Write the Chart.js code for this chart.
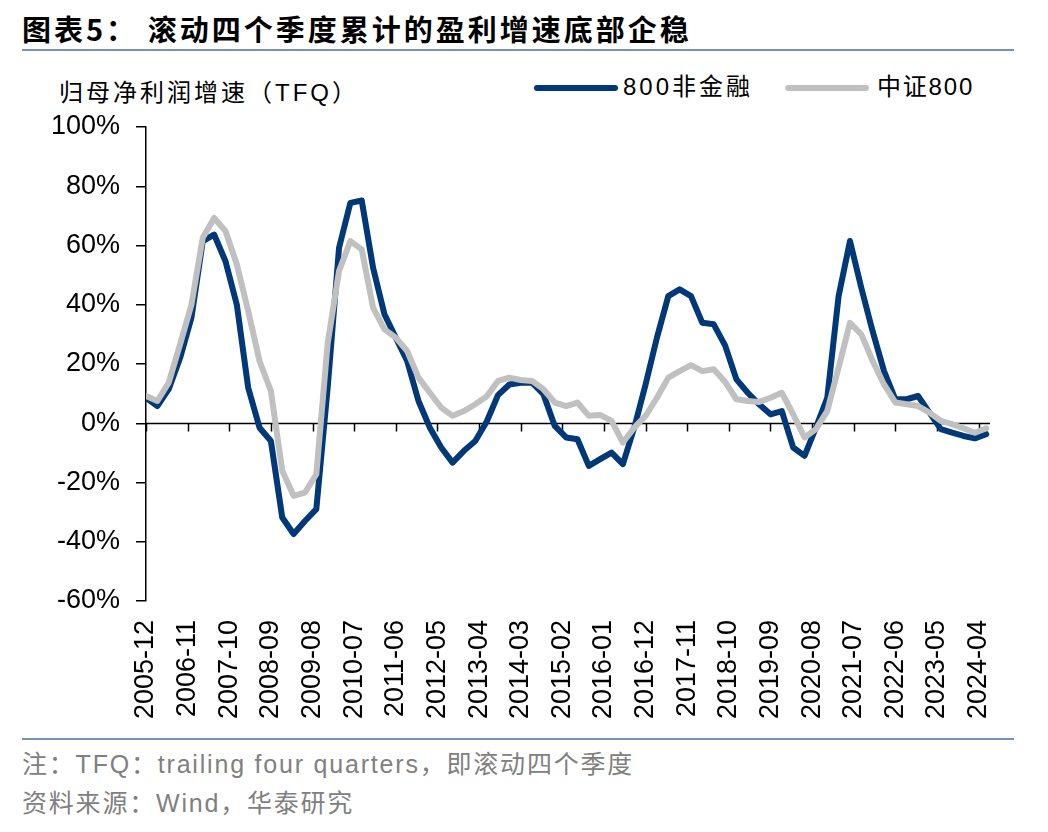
<!DOCTYPE html>
<html>
<head>
<meta charset="utf-8">
<script src="https://cdn.jsdelivr.net/npm/chart.js@4.4.0/dist/chart.umd.min.js"></script>
<style>
  body { margin: 0; width: 1048px; height: 832px; background: #fff; position: relative; overflow: hidden;
         font-family: "Liberation Sans", "Noto Sans CJK SC", sans-serif; color: #000; }
  .abs { position: absolute; white-space: nowrap; }
  #title { left: 22px; top: 8px; font-size: 29px; font-weight: bold; letter-spacing: 3px;
           font-family: "Noto Sans CJK SC", sans-serif; line-height: 40px; }
  .rule { position: absolute; left: 22px; width: 992px; height: 2px; background: #7393bd; }
  #ytitle { left: 59px; top: 76px; font-size: 24px; line-height: 34px; letter-spacing: 3px; }
  .swatch { position: absolute; height: 6px; border-radius: 3px; }
  .legtext { font-size: 24px; line-height: 34px; }
  .note { left: 22px; font-size: 25px; color: #808080; line-height: 30px; letter-spacing: 1.8px; }
  #chartwrap { position: absolute; left: 0; top: 100px; width: 1048px; height: 635px; }
</style>
</head>
<body>
<div id="title" class="abs">图表5：&nbsp;滚动四个季度累计的盈利增速底部企稳</div>
<div class="rule" style="top:49px"></div>
<div id="ytitle" class="abs">归母净利润增速（TFQ）</div>
<div class="swatch" style="left:534px;top:85px;width:84px;background:#003878"></div>
<div class="abs legtext" style="left:623px;top:70px;letter-spacing:3px">800非金融</div>
<div class="swatch" style="left:785px;top:85px;width:84px;background:#c0c0c0"></div>
<div class="abs legtext" style="left:877px;top:70px;letter-spacing:1.8px">中证800</div>
<div id="chartwrap"><canvas id="profitChart" width="1048" height="635"></canvas></div>
<div class="rule" style="top:738px"></div>
<div class="abs note" style="top:749px">注：TFQ：trailing four quarters，即滚动四个季度</div>
<div class="abs note" style="top:788px">资料来源：Wind，华泰研究</div>

<script>
// quarter ends, 2005-12 .. 2024-06
const quarters = [
  '2005-12',
  '2006-03', '2006-06', '2006-09', '2006-12',
  '2007-03', '2007-06', '2007-09', '2007-12',
  '2008-03', '2008-06', '2008-09', '2008-12',
  '2009-03', '2009-06', '2009-09', '2009-12',
  '2010-03', '2010-06', '2010-09', '2010-12',
  '2011-03', '2011-06', '2011-09', '2011-12',
  '2012-03', '2012-06', '2012-09', '2012-12',
  '2013-03', '2013-06', '2013-09', '2013-12',
  '2014-03', '2014-06', '2014-09', '2014-12',
  '2015-03', '2015-06', '2015-09', '2015-12',
  '2016-03', '2016-06', '2016-09', '2016-12',
  '2017-03', '2017-06', '2017-09', '2017-12',
  '2018-03', '2018-06', '2018-09', '2018-12',
  '2019-03', '2019-06', '2019-09', '2019-12',
  '2020-03', '2020-06', '2020-09', '2020-12',
  '2021-03', '2021-06', '2021-09', '2021-12',
  '2022-03', '2022-06', '2022-09', '2022-12',
  '2023-03', '2023-06', '2023-09', '2023-12',
  '2024-03', '2024-06'
];

// 800非金融 (%)
const nonFinancial = [
  8.6,
  5.8, 11.5, 22.0, 35.6,
  61.5, 63.7, 54.7, 40.0,
  12.0, -1.5, -6.0, -31.8,
  -37.4, -33.0, -29.0, 12.0,
  59.2, 74.4, 75.2, 52.5,
  36.8, 28.9, 21.0, 7.5,
  -1.5, -8.2, -13.3, -9.3,
  -6.0, 0.5, 9.5, 13.1,
  13.7, 13.7, 9.8, -0.9,
  -4.8, -5.4, -14.4, -12.1,
  -9.9, -13.8, -1.5, 13.1,
  28.9, 42.9, 45.2, 42.9,
  33.9, 33.4, 26.3, 14.8,
  10.3, 6.4, 3.0, 4.1,
  -8.2, -11.0, -1.5, 8.6,
  42.9, 61.5, 45.7, 31.0,
  17.6, 8.1, 8.1, 9.2,
  3.6, -2.0, -3.2, -4.3,
  -5.1, -3.7
];

// 中证800 (%)
const csi800 = [
  9.2,
  7.5, 13.7, 26.6, 40.0,
  62.6, 69.3, 64.9, 53.6,
  37.9, 21.0, 10.9, -16.0,
  -24.5, -23.4, -17.2, 27.0,
  51.4, 61.5, 58.7, 39.0,
  31.7, 28.9, 24.4, 15.4,
  10.3, 5.3, 2.5, 4.1,
  6.4, 9.0, 14.3, 15.4,
  14.6, 14.3, 11.5, 7.0,
  5.8, 7.0, 2.5, 2.8,
  0.8, -6.5, -1.5, 2.5,
  8.6, 15.4, 17.6, 19.6,
  17.6, 18.2, 14.0, 8.1,
  7.5, 7.2, 8.6, 10.3,
  3.0, -4.8, -2.0, 4.1,
  18.8, 33.9, 30.0, 21.0,
  13.1, 7.0, 6.4, 5.8,
  3.6, 0.8, -0.3, -1.7,
  -3.2, -1.7
];

const tickLabels = [
  '2005-12', '2006-11', '2007-10', '2008-09', '2009-08', '2010-07', '2011-06',
  '2012-05', '2013-04', '2014-03', '2015-02', '2016-01', '2016-12', '2017-11',
  '2018-10', '2019-09', '2020-08', '2021-07', '2022-06', '2023-05', '2024-04'
];

// months counted from 2005-12
function monthIndex(s) {
  const [yy, mm] = s.split('-').map(Number);
  return (yy - 2005) * 12 + mm - 12;
}

function toPoints(values) {
  return quarters.map((q, i) => ({ x: monthIndex(q), y: values[i] }));
}

// zero line with the small tick marks, drawn under the lines
const zeroAxis = {
  id: 'zeroAxis',
  beforeDatasetsDraw(chart) {
    const { ctx, chartArea, scales } = chart;
    const y0 = Math.round(scales.y.getPixelForValue(0)) + 0.5;
    ctx.save();
    ctx.strokeStyle = '#000';
    ctx.lineWidth = 1.5;
    ctx.beginPath();
    ctx.moveTo(chartArea.left, y0);
    ctx.lineTo(chartArea.right, y0);
    scales.x.ticks.forEach(t => {
      const px = Math.round(scales.x.getPixelForValue(t.value)) + 0.5;
      ctx.moveTo(px, y0);
      ctx.lineTo(px, y0 + 8);
    });
    ctx.stroke();
    ctx.restore();
  }
};

new Chart(document.getElementById('profitChart'), {
  type: 'line',
  data: {
    datasets: [
      {
        label: '中证800',
        data: toPoints(csi800),
        borderColor: '#c0c0c0',
        borderWidth: 6,
        order: 0
      },
      {
        label: '800非金融',
        data: toPoints(nonFinancial),
        borderColor: '#003878',
        borderWidth: 6,
        order: 1
      }
    ]
  },
  options: {
    responsive: false,
    devicePixelRatio: 1,
    animation: false,
    layout: { padding: { left: 0, top: 27, right: 58, bottom: 0 } },
    elements: {
      point: { radius: 0, hoverRadius: 0 },
      line: { tension: 0, borderJoinStyle: 'round', borderCapStyle: 'round' }
    },
    plugins: { legend: { display: false }, tooltip: { enabled: false } },
    scales: {
      x: {
        type: 'linear',
        min: 0,
        max: 223,
        afterBuildTicks: (scale) => {
          scale.ticks = tickLabels.map(l => ({ value: monthIndex(l) }));
        },
        afterFit: (scale) => { scale.height = 134; },
        grid: { display: false, drawTicks: false },
        border: { display: false },
        ticks: {
          autoSkip: false,
          minRotation: 90,
          maxRotation: 90,
          padding: 19,
          color: '#000',
          font: { family: 'Liberation Sans', size: 27 },
          callback: (v) => tickLabels.find(l => monthIndex(l) === v) || ''
        }
      },
      y: {
        min: -60,
        max: 100,
        afterFit: (scale) => {
          scale.width = 146;
          scale.paddingTop = 0;
          scale.paddingBottom = 0;
        },
        grid: { drawOnChartArea: false, drawTicks: true, tickLength: 10, color: '#000', lineWidth: 1.5 },
        border: { display: true, color: '#000', width: 1.5 },
        ticks: {
          stepSize: 20,
          padding: 16,
          color: '#000',
          font: { family: 'Liberation Sans', size: 27 },
          callback: (v) => v + '%'
        }
      }
    }
  },
  plugins: [zeroAxis]
});
</script>
</body>
</html>
